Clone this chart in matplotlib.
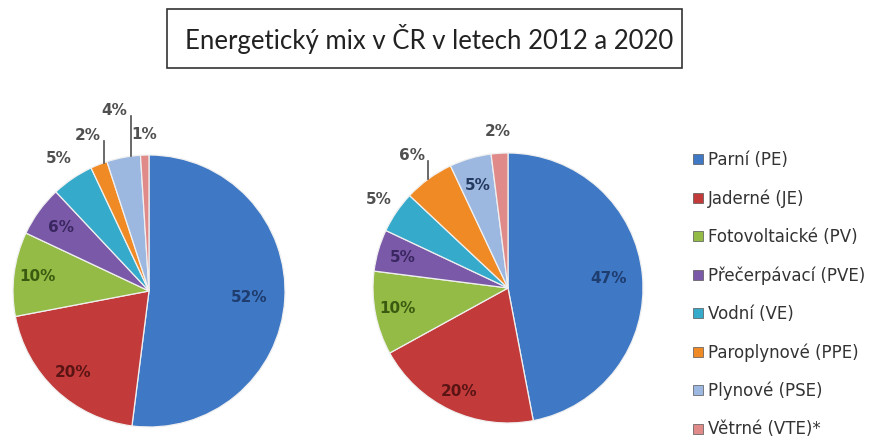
import matplotlib
matplotlib.use("Agg")
import matplotlib.pyplot as plt
import numpy as np
from matplotlib.patches import Patch, Rectangle

plt.rcParams['font.family'] = ['DejaVu Sans']

# data
title = "Energetický mix v ČR v letech 2012 a 2020"
categories = ["Parní (PE)", "Jaderné (JE)", "Fotovoltaické (PV)", "Přečerpávací (PVE)",
              "Vodní (VE)", "Paroplynové (PPE)", "Plynové (PSE)", "Větrné (VTE)*"]
mix_2012 = [52, 20, 10, 6, 5, 2, 4, 1]
mix_2020 = [47, 20, 10, 5, 5, 6, 5, 2]

colors = ["#3F78C4", "#C23A3A", "#93BB45", "#7A5AA8", "#35AACB", "#F08A24", "#9DB8E0", "#E08A8A"]
dark = ["#1E3C6E", "#5A1414", "#3A5A10", "#3A2660", "#1B5566", "#6A3A0A", "#23395F", "#6A2A2A"]

# label placement (radius, leader line?)
dist_2012 = [0.74, 0.82, 0.83, 0.80, 1.18, 1.23, 1.35, 1.15]
line_2012 = [False, False, False, False, False, True, True, False]
dist_2020 = [0.75, 0.85, 0.83, 0.81, 1.16, 1.21, 0.79, 1.16]
line_2020 = [False, False, False, False, False, True, False, False]

fig = plt.figure(figsize=(8.77, 4.41), dpi=100)


def draw_pie(ax, vals, dists, lines):
    wedges, _ = ax.pie(vals, colors=colors, startangle=90, counterclock=False,
                       radius=1, wedgeprops=dict(edgecolor="#f0f0f0", linewidth=0.9))
    for i, w in enumerate(wedges):
        ang = np.deg2rad((w.theta1 + w.theta2) / 2)
        r = dists[i]
        x, y = r * np.cos(ang), r * np.sin(ang)
        outside = r > 1
        col = "#505050" if outside else dark[i]
        ax.text(x, y, f"{vals[i]}%", ha="center", va="center", fontsize=11,
                fontweight="bold", color=col)
        if lines[i]:
            lx = x + 0.12
            ax.plot([lx, lx], [y - 0.04, np.sqrt(1 - lx ** 2)], color="#505050",
                    lw=1.2, clip_on=False)
    ax.set_xlim(-1, 1)
    ax.set_ylim(-1, 1)
    ax.set_aspect("equal")
    ax.axis("off")


ax1 = fig.add_axes([13 / 877, 1 - 427 / 441, 272 / 877, 272 / 441])
draw_pie(ax1, mix_2012, dist_2012, line_2012)
ax2 = fig.add_axes([373 / 877, 1 - 423 / 441, 270 / 877, 270 / 441])
draw_pie(ax2, mix_2020, dist_2020, line_2020)

# title box
fig.patches.append(Rectangle((167 / 877, 1 - 68 / 441), 515 / 877, 59 / 441,
                             transform=fig.transFigure, fill=False, edgecolor="#333333", lw=1.2))
fig.text(429.5 / 877, 1 - 39 / 441, title, ha="center", va="center", fontsize=18.5,
         color="#222222", family="Lato")

handles = [Patch(facecolor=c, edgecolor="#555555", linewidth=0.5) for c in colors]
fig.legend(handles, categories, loc="upper left", bbox_to_anchor=(685 / 877, 1 - 143 / 441),
           frameon=False, fontsize=12, handlelength=0.55, handleheight=0.55, handletextpad=0.3,
           labelspacing=1.21, labelcolor="#333333", borderpad=0)

fig.savefig("out.png", dpi=100, facecolor="white")
